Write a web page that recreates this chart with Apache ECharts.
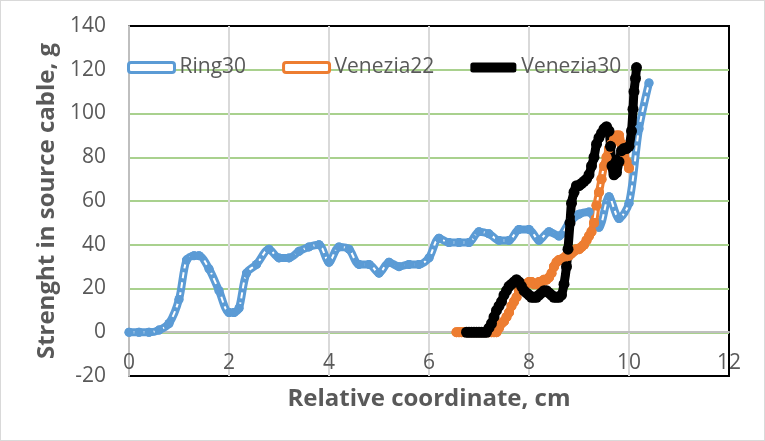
<!DOCTYPE html>
<html><head><meta charset="utf-8">
<script src="https://cdn.jsdelivr.net/npm/echarts@6/dist/echarts.min.js"></script>
<style>html,body{margin:0;padding:0;background:#fff}#c{width:765px;height:441px;box-sizing:border-box;border:1px solid #d9d9d9}</style>
</head><body><div id="c"></div>
<script>
const ring30X = [0, 0.2, 0.4, 0.6, 0.8, 1.0, 1.15, 1.3, 1.4, 1.6, 1.8, 2.0, 2.1, 2.2, 2.35, 2.55, 2.8, 3.0, 3.2, 3.4, 3.6, 3.8, 4.0, 4.2, 4.4, 4.6, 4.8, 5.0, 5.2, 5.4, 5.6, 5.8, 6.0, 6.2, 6.4, 6.6, 6.8, 7.0, 7.2, 7.4, 7.6, 7.8, 8.0, 8.2, 8.4, 8.6, 8.8, 9.0, 9.2, 9.4, 9.6, 9.8, 10.0, 10.2, 10.4];
const ring30Y = [0, 0, 0, 1, 4, 15, 33, 35, 35, 29, 19, 9, 9, 11, 27, 31, 38, 34, 34, 37, 39, 40, 32, 39, 38, 31, 31, 27, 32, 30, 31, 31, 34, 43, 41, 41, 41, 46, 45, 42, 42, 47, 47, 42, 46, 44, 50, 54, 55, 48, 62, 52, 59, 93, 114];

const venezia22X = [6.55, 6.6, 6.65, 6.7, 6.75, 6.8, 6.85, 6.9, 6.95, 7.0, 7.05, 7.1, 7.15, 7.2, 7.25, 7.3, 7.35, 7.4, 7.45, 7.5, 7.55, 7.6, 7.65, 7.7, 7.75, 7.8, 7.85, 7.9, 7.95, 8.0, 8.05, 8.1, 8.15, 8.2, 8.25, 8.3, 8.35, 8.4, 8.45, 8.5, 8.55, 8.6, 8.65, 8.7, 8.75, 8.8, 8.85, 8.9, 8.95, 9.0, 9.05, 9.1, 9.15, 9.2, 9.25, 9.3, 9.35, 9.4, 9.45, 9.5, 9.55, 9.6, 9.65, 9.7, 9.75, 9.8, 9.85, 9.9, 9.95, 10.0];
const venezia22Y = [0, 0, 0, 0, 0, 0, 0, 0, 0, 0, 0, 0, 0, 0, 0, 0, 0, 2, 4, 5, 7, 9, 12, 14, 16, 19, 21, 22, 22, 23, 23, 22, 22, 23, 23, 24, 24, 25, 27, 30, 32, 33, 33, 34, 35, 35, 36, 37, 38, 38, 39, 40, 42, 44, 46, 50, 58, 64, 70, 76, 80, 84, 86, 88, 90, 90, 86, 82, 78, 75];

const venezia30X = [6.75, 6.8, 6.85, 6.9, 6.95, 7.0, 7.05, 7.1, 7.15, 7.2, 7.25, 7.3, 7.35, 7.4, 7.45, 7.5, 7.55, 7.6, 7.65, 7.7, 7.75, 7.8, 7.85, 7.9, 7.95, 8.0, 8.05, 8.1, 8.15, 8.2, 8.25, 8.3, 8.35, 8.4, 8.45, 8.5, 8.55, 8.6, 8.65, 8.7, 8.75, 8.78, 8.82, 8.85, 8.9, 8.95, 9.0, 9.05, 9.1, 9.15, 9.2, 9.25, 9.3, 9.35, 9.4, 9.45, 9.5, 9.55, 9.6, 9.63, 9.66, 9.7, 9.75, 9.8, 9.85, 9.9, 9.95, 10.0, 10.05, 10.08, 10.1, 10.13, 10.15];
const venezia30Y = [0, 0, 0, 0, 0, 0, 0, 0, 0, 2, 4, 7, 10, 12, 14, 17, 19, 21, 22, 23, 24, 23, 21, 19, 18, 17, 16, 16, 16, 17, 18, 19, 19, 18, 17, 16, 16, 16, 17, 22, 30, 38, 50, 59, 64, 67, 67, 68, 69, 70, 72, 76, 80, 86, 89, 91, 93, 94, 92, 85, 76, 72, 73, 78, 83, 84, 84, 85, 92, 102, 110, 116, 121];

const seriesNames = ['Ring30', 'Venezia22', 'Venezia30'];
const xTicks = {min: 0, max: 12, interval: 2};
const yTicks = {min: -20, max: 140, interval: 20};

const pairs = (xs, ys) => xs.map((x, i) => [x, ys[i]]);
const ringData = pairs(ring30X, ring30Y);
const v22Data = pairs(venezia22X, venezia22Y);
const v30Data = pairs(venezia30X, venezia30Y);

const BLUE = '#5B9BD5', ORANGE = '#ED7D31', BLACK = '#000000';
const FONT = 'Open Sans';
const labelColor = '#595959';

const GRID = {left: 128, right: 35, top: 25, bottom: 64};
const plotH = 441 - GRID.top - GRID.bottom;
// place the x axis line where y = 0 crosses the plot (axis crossing like the original)
const xAxisOffset = -plotH * (0 - yTicks.min) / (yTicks.max - yTicks.min);

const chart = echarts.init(document.getElementById('c'), null, {renderer: 'canvas'});
chart.setOption({
  animation: false,
  backgroundColor: '#fff',
  grid: Object.assign({show: true, borderColor: '#000', borderWidth: 2, containLabel: false}, GRID),
  legend: {
    data: [
      {name: 'Ring30', icon: 'roundRect', itemStyle: {color: '#fff', borderColor: BLUE, borderWidth: 3}},
      {name: 'Venezia22', icon: 'roundRect', itemStyle: {color: '#fff', borderColor: ORANGE, borderWidth: 3}},
      {name: 'Venezia30', icon: 'roundRect', itemStyle: {color: BLACK, borderColor: BLACK, borderWidth: 0}}
    ],
    left: 121, top: 51,
    itemWidth: 46, itemHeight: 10, itemGap: 36,
    textStyle: {fontFamily: FONT, fontSize: 21, color: labelColor}
  },
  xAxis: {
    type: 'value', min: xTicks.min, max: xTicks.max, interval: xTicks.interval,
    offset: xAxisOffset,
    name: 'Relative coordinate, cm', nameLocation: 'middle', nameGap: 55,
    nameTextStyle: {fontFamily: FONT, fontSize: 24, fontWeight: 'bold', color: labelColor},
    axisLine: {show: true, onZero: false, lineStyle: {color: '#BFBFBF', width: 2}},
    axisTick: {show: false},
    axisLabel: {fontFamily: FONT, fontSize: 21, color: labelColor, margin: 21},
    splitLine: {show: true, showMinLine: false, showMaxLine: false, lineStyle: {color: '#D9D9D9', width: 2}}
  },
  yAxis: {
    type: 'value', min: yTicks.min, max: yTicks.max, interval: yTicks.interval,
    name: 'Strenght in source cable, g', nameLocation: 'middle', nameGap: 57, nameRotate: 90,
    nameTextStyle: {fontFamily: FONT, fontSize: 24, fontWeight: 'bold', color: labelColor},
    axisLine: {show: true, onZero: false, lineStyle: {color: '#BFBFBF', width: 2}},
    axisTick: {show: false},
    axisLabel: {fontFamily: FONT, fontSize: 21, color: labelColor, margin: 23},
    splitLine: {show: true, showMinLine: false, showMaxLine: false, lineStyle: {color: '#A9D18E', width: 2}}
  },
  series: [
    {name: 'Ring30', type: 'line', data: ringData, smooth: 0.3, symbol: 'circle', symbolSize: 9, showSymbol: true,
     lineStyle: {color: BLUE, width: 8}, itemStyle: {color: BLUE}},
    {name: 'Ring30-inner', type: 'line', data: ringData, smooth: 0.3, symbol: 'none', silent: true,
     lineStyle: {color: '#fff', width: 2, type: [6, 4]}},
    {name: 'Ring30-marks', type: 'line', data: ringData, smooth: 0.3, symbol: 'circle', symbolSize: 9, silent: true,
     lineStyle: {opacity: 0}, itemStyle: {color: BLUE}},
    {name: 'Venezia22', type: 'line', data: v22Data, smooth: 0.3, symbol: 'circle', symbolSize: 10, showSymbol: true,
     lineStyle: {color: ORANGE, width: 8}, itemStyle: {color: ORANGE}},
    {name: 'Venezia22-inner', type: 'line', data: v22Data, smooth: 0.3, symbol: 'none', silent: true,
     lineStyle: {color: '#fff', width: 2}},
    {name: 'Venezia22-marks', type: 'line', data: v22Data, smooth: 0.3, symbol: 'circle', symbolSize: 10, silent: true,
     lineStyle: {opacity: 0}, itemStyle: {color: ORANGE}},
    {name: 'Venezia30', type: 'line', data: v30Data, smooth: 0.3, symbol: 'circle', symbolSize: 11, showSymbol: true,
     lineStyle: {color: BLACK, width: 9}, itemStyle: {color: BLACK}}
  ]
});
</script></body></html>
